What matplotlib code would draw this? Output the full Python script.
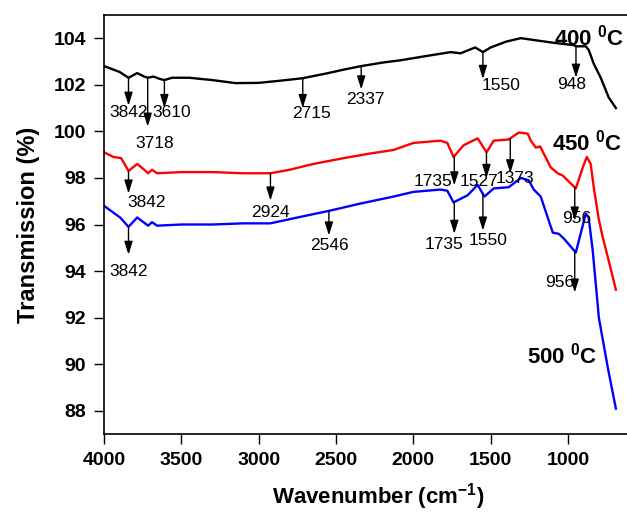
import matplotlib
matplotlib.use("Agg")
import matplotlib.pyplot as plt
import numpy as np

plt.rcParams["font.family"] = ["Liberation Sans", "DejaVu Sans"]
plt.rcParams["mathtext.fontset"] = "custom"
plt.rcParams["mathtext.rm"] = "Liberation Sans"
plt.rcParams["mathtext.bf"] = "Liberation Sans:bold"

# 400 C spectrum
wn_400 = [4000, 3960, 3900, 3842, 3786, 3740, 3718, 3680, 3640, 3610, 3560, 3450, 3300, 3150,
          3000, 2850, 2715, 2550, 2450, 2337, 2200, 2083, 1900, 1759, 1694, 1600, 1550, 1500,
          1400, 1305, 1200, 1092, 962, 948, 885, 866, 833, 788, 736, 690]
tr_400 = [102.8, 102.7, 102.55, 102.3, 102.5, 102.35, 102.3, 102.35, 102.25, 102.2, 102.3, 102.3,
          102.2, 102.07, 102.08, 102.18, 102.28, 102.5, 102.65, 102.8, 102.95, 103.05, 103.25,
          103.4, 103.35, 103.6, 103.4, 103.6, 103.85, 104.0, 103.9, 103.8, 103.7, 103.65, 103.65,
          103.5, 102.9, 102.3, 101.45, 101.0]

# 450 C spectrum
wn_450 = [4000, 3940, 3890, 3842, 3786, 3740, 3715, 3690, 3657, 3500, 3300, 3100, 2925, 2800,
          2646, 2450, 2277, 2128, 2000, 1824, 1780, 1740, 1675, 1584, 1526, 1480, 1383, 1318,
          1260, 1240, 1208, 1180, 1111, 1066, 1034, 949, 904, 878, 853, 833, 800, 775, 742, 690]
tr_450 = [99.1, 98.9, 98.85, 98.3, 98.6, 98.35, 98.2, 98.35, 98.2, 98.25, 98.25, 98.2, 98.2, 98.35,
          98.6, 98.85, 99.05, 99.2, 99.5, 99.6, 99.5, 98.9, 99.4, 99.7, 99.1, 99.6, 99.65, 99.95,
          99.9, 99.6, 99.3, 99.35, 98.45, 98.2, 98.1, 97.55, 98.45, 98.9, 98.6, 97.6, 96.2, 95.45,
          94.6, 93.2]

# 500 C spectrum
wn_500 = [4000, 3896, 3842, 3786, 3715, 3690, 3657, 3500, 3300, 3100, 2925, 2750, 2536, 2342,
          2128, 2000, 1824, 1780, 1740, 1650, 1584, 1540, 1480, 1383, 1305, 1254, 1221, 1176,
          1098, 1059, 1027, 949, 904, 885, 866, 840, 800, 742, 690]
tr_500 = [96.8, 96.3, 95.9, 96.3, 95.95, 96.1, 95.95, 96.0, 96.0, 96.05, 96.05, 96.3, 96.6, 96.9,
          97.2, 97.4, 97.5, 97.45, 96.95, 97.25, 97.7, 97.2, 97.55, 97.6, 98.0, 97.9, 97.5, 97.2,
          95.65, 95.6, 95.4, 94.8, 95.96, 96.47, 96.3, 94.9, 92.0, 89.85, 88.1]

# peak labels: (peak position, arrow tip y, label x, label y, text)
peaks_400 = [(3842, 101.1, 3842, 100.8, "3842"), (3718, 100.2, 3676, 99.48, "3718"),
             (3610, 101.0, 3566, 100.8, "3610"), (2715, 101.0, 2659, 100.77, "2715"),
             (2337, 101.8, 2310, 101.35, "2337"), (1550, 102.25, 1435, 101.98, "1550"),
             (948, 102.3, 975, 102.0, "948")]
peaks_450 = [(3842, 97.33, 3728, 96.95, "3842"), (2924, 97.03, 2925, 96.52, "2924"),
             (1735, 97.68, 1872, 97.85, "1735"), (1527, 98.0, 1574, 97.85, "1527"),
             (1373, 98.2, 1344, 97.98, "1373"), (956, 96.17, 943, 96.26, "956")]
peaks_500 = [(3842, 94.7, 3842, 94.0, "3842"), (2546, 95.53, 2540, 95.1, "2546"),
             (1735, 95.6, 1801, 95.14, "1735"), (1550, 95.74, 1516, 95.31, "1550"),
             (956, 93.08, 1056, 93.5, "956")]

curves = [
    (wn_400, tr_400, "black", peaks_400, "400", 1090, 104.04),
    (wn_450, tr_450, "red", peaks_450, "450", 1100, 99.53),
    (wn_500, tr_500, "blue", peaks_500, "500", 1262, 90.37),
]

fig = plt.figure(figsize=(6.27, 5.12), dpi=100)
ax = fig.add_axes([0.166, 0.152, 0.834, 0.819])

for wn, tr, color, peaks, temp, lx, ly in curves:
    ax.plot(wn, tr, color=color, linewidth=1.7)
    wn_arr = np.array(wn[::-1], dtype=float)
    tr_arr = np.array(tr[::-1], dtype=float)
    for pos, tip, tx, ty, txt in peaks:
        y0 = np.interp(pos, wn_arr, tr_arr)
        ax.annotate("", xy=(pos, tip), xytext=(pos, y0),
                    arrowprops=dict(arrowstyle="-|>,head_length=0.8,head_width=0.25",
                                    color="black", lw=1.0, shrinkA=0, shrinkB=0))
        ax.text(tx, ty, txt, ha="center", va="center", fontsize=12.5)
    ax.text(lx, ly, temp + r" $^{\mathbf{0}}$C", ha="left", va="center",
            fontsize=16, fontweight="bold")

ax.set_xlim(4000, 618)
ax.set_ylim(87, 105)
ax.set_xticks([4000, 3500, 3000, 2500, 2000, 1500, 1000])
ax.set_yticks(np.arange(88, 105, 2))
ax.spines["right"].set_visible(False)
for s in ax.spines.values():
    s.set_linewidth(1.2)
ax.tick_params(direction="out", length=7, width=1, labelsize=14, pad=6)
for lab in ax.get_xticklabels() + ax.get_yticklabels():
    lab.set_fontweight("bold")
ax.set_xlabel(r"Wavenumber (cm$^{\mathbf{-1}}$)", fontsize=16, fontweight="bold")
ax.xaxis.set_label_coords(0.524, -0.112)
ax.set_ylabel("Transmission (%)", fontsize=17, fontweight="bold", labelpad=10)

fig.savefig("out.png", dpi=100)
